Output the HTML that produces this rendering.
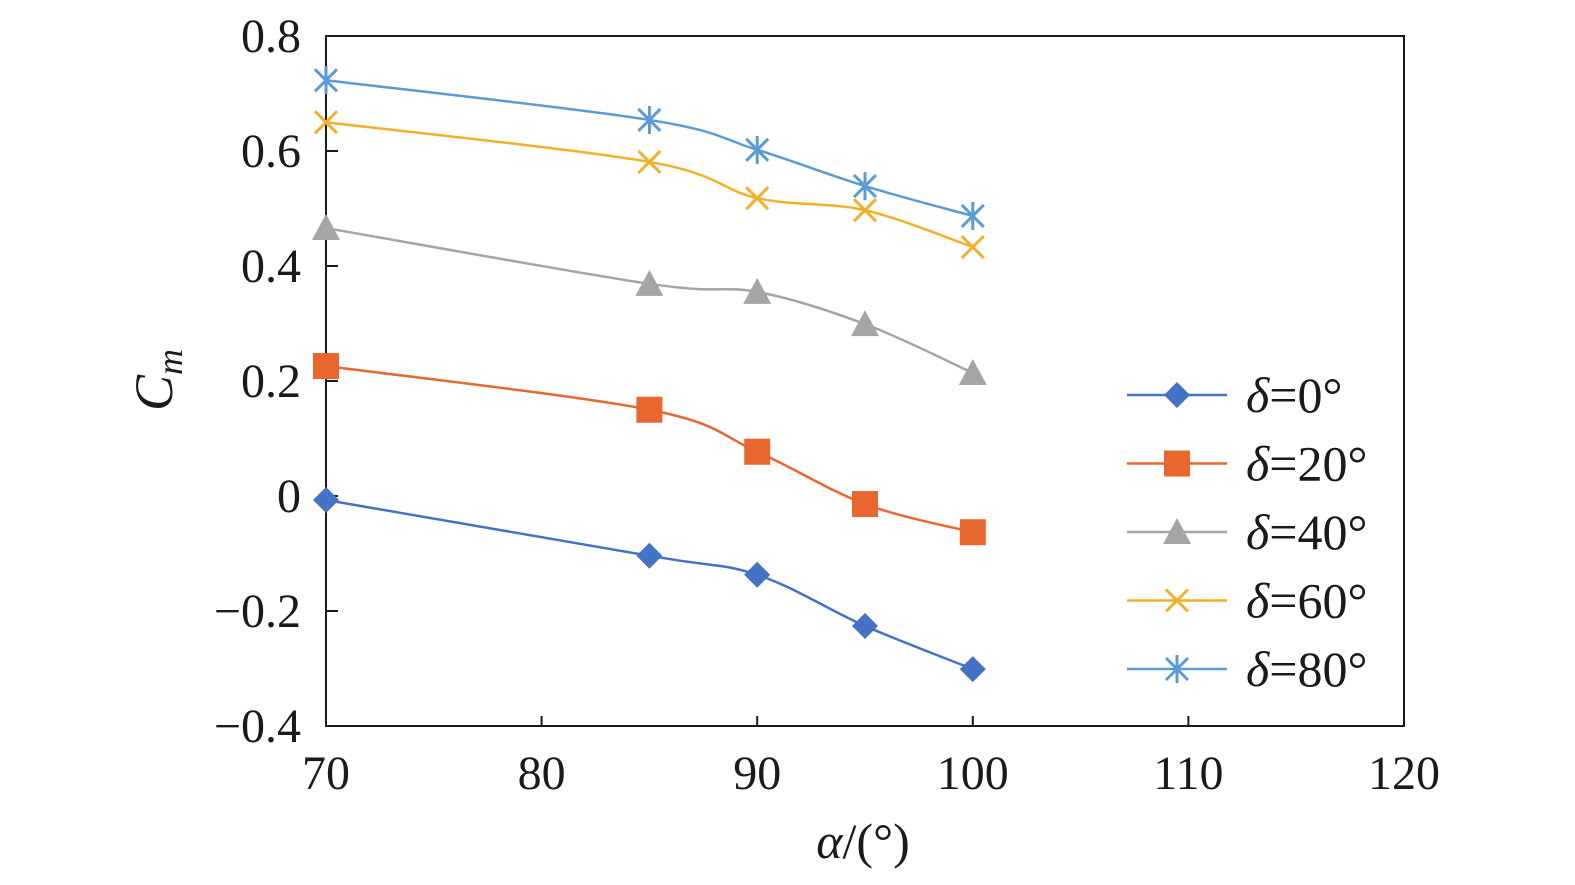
<!DOCTYPE html>
<html><head><meta charset="utf-8"><style>
body{margin:0;background:#fff;}
svg text{font-family:"Liberation Serif","Times New Roman",serif;fill:#1a1a1a;}
</style></head><body>
<svg id="chart" width="1575" height="880" viewBox="0 0 1575 880" xmlns="http://www.w3.org/2000/svg" font-family="Liberation Serif, serif">
<g id="grid"></g>
<g id="series"></g>
<g id="legend"></g>
</svg>
<script>
const xTicks=[70,80,90,100,110,120];
const yTicks=[-0.4,-0.2,0,0.2,0.4,0.6,0.8];
const yTickLabels=["\u22120.4","\u22120.2","0","0.2","0.4","0.6","0.8"];
const alphas=[70,85,90,95,100];
const cm0=[-0.007,-0.104,-0.137,-0.226,-0.301];
const cm20=[0.226,0.150,0.077,-0.014,-0.063];
const cm40=[0.466,0.369,0.355,0.299,0.214];
const cm60=[0.650,0.581,0.518,0.497,0.433];
const cm80=[0.723,0.654,0.602,0.539,0.487];
const seriesNames=["δ=0°","δ=20°","δ=40°","δ=60°","δ=80°"];
const seriesValues=[cm0,cm20,cm40,cm60,cm80];
const colors=["#4472c4","#e8672e","#a5a5a5","#f0b02a","#5b9bd5"];
const markers=["diamond","square","triangle","x","star"];

const L=326,R=1404,T=36,B=726;
const FONT='"Liberation Serif","Times New Roman",serif';
const xs=v=>L+(v-70)/50*(R-L);
const ys=v=>T+(0.8-v)/1.2*(B-T);
const NS="http://www.w3.org/2000/svg";
function mk(tag,attrs,parent){const e=document.createElementNS(NS,tag);for(const k in attrs)e.setAttribute(k,attrs[k]);if(tag==='text')e.style.fontFamily=FONT;parent.appendChild(e);return e;}
const svg=document.getElementById('chart');
const grid=document.getElementById('grid');
const frame=mk('rect',{x:L,y:T,width:R-L,height:B-T,fill:'none',stroke:'#1a1a1a','stroke-width':2},grid);


xTicks.forEach(t=>{
  const ln=mk('line',{x1:xs(t),x2:xs(t),y1:B,y2:B-10,stroke:'#1a1a1a','stroke-width':2},grid);
  
  
  const tx=mk('text',{x:xs(t),y:B+63,'text-anchor':'middle','font-size':48},grid);
  tx.textContent=t;
  
  
});
yTicks.forEach((t,i)=>{
  const ln=mk('line',{x1:L,x2:L+12,y1:ys(t),y2:ys(t),stroke:'#1a1a1a','stroke-width':2},grid);
  
  
  const tx=mk('text',{x:301,y:ys(t)+16,'text-anchor':'end','font-size':48},grid);
  tx.textContent=yTickLabels[i];
  
  
});
const xt=mk('text',{x:863,y:858,'text-anchor':'middle','font-size':50},svg);
xt.innerHTML='<tspan font-style="italic">α</tspan>/(°)';


const yt=mk('text',{transform:'translate(172,380) rotate(-90)','text-anchor':'middle','font-size':54,'font-style':'italic'},svg);
yt.innerHTML='C<tspan font-size="36" dy="10">m</tspan>';



function marker(type,x,y,c,p){
  let e;
  if(type==='diamond') e=mk('polygon',{points:`${x},${y-13} ${x+13},${y} ${x},${y+13} ${x-13},${y}`,fill:c},p);
  else if(type==='square') e=mk('rect',{x:x-13,y:y-13,width:26,height:26,fill:c},p);
  else if(type==='triangle') e=mk('polygon',{points:`${x},${y-14} ${x+14},${y+12} ${x-14},${y+12}`,fill:c},p);
  else if(type==='x') e=mk('path',{d:`M${x-11},${y-11}L${x+11},${y+11}M${x+11},${y-11}L${x-11},${y+11}`,stroke:c,'stroke-width':3,fill:'none'},p);
  else e=mk('path',{d:`M${x-11},${y-11}L${x+11},${y+11}M${x+11},${y-11}L${x-11},${y+11}M${x},${y-14}L${x},${y+14}`,stroke:c,'stroke-width':3,fill:'none'},p);
  return e;
}
function smooth(pts){
  let d=`M${pts[0][0]},${pts[0][1]}`;
  for(let i=0;i<pts.length-1;i++){
    const p0=pts[Math.max(i-1,0)],p1=pts[i],p2=pts[i+1],p3=pts[Math.min(i+2,pts.length-1)];
    const t=0.5/3;
    d+=`C${p1[0]+(p2[0]-p0[0])*t},${p1[1]+(p2[1]-p0[1])*t} ${p2[0]-(p3[0]-p1[0])*t},${p2[1]-(p3[1]-p1[1])*t} ${p2[0]},${p2[1]}`;
  }
  return d;
}
const sg=document.getElementById('series');
seriesValues.forEach((vals,si)=>{
  const pts=alphas.map((a,i)=>[xs(a),ys(vals[i])]);
  const path=mk('path',{d:smooth(pts),fill:'none',stroke:colors[si],'stroke-width':2.5},sg);
  
  
  pts.forEach(p=>{
    const m=marker(markers[si],p[0],p[1],colors[si],sg);
    
    
  });
});
const lg=document.getElementById('legend');
seriesNames.forEach((n,i)=>{
  const y=395+i*68.5;
  const ln=mk('line',{x1:1127,x2:1227,y1:y,y2:y,stroke:colors[i],'stroke-width':2.5},lg);
  
  
  const m=marker(markers[i],1177,y,colors[i],lg);
  
  
  const tx=mk('text',{x:1246,y:y+17,'font-size':50},lg);
  tx.innerHTML='<tspan font-style="italic">δ</tspan>'+n.slice(1);
  
  
});
</script>
</body></html>
